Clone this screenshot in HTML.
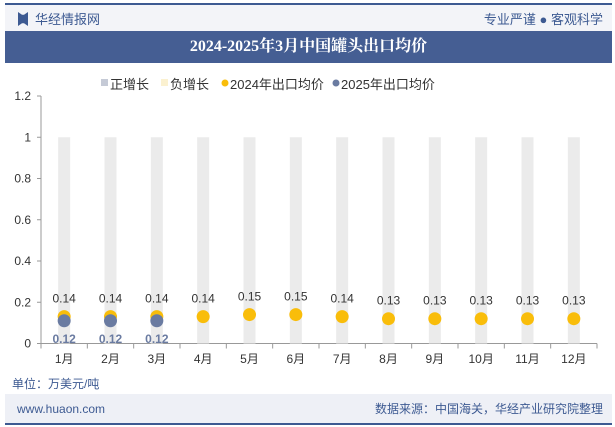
<!DOCTYPE html>
<html><head><meta charset="utf-8"><style>
body{margin:0;width:615px;height:427px;overflow:hidden;background:#fff;font-family:"Liberation Sans","Noto Sans CJK SC",sans-serif;position:relative}
.abs{position:absolute}
</style></head><body>
<div class="abs" style="left:5px;top:3px;width:607px;height:2px;background:#3d5a92"></div>
<div class="abs" style="left:5px;top:5px;width:607px;height:26px;background:#f3f4f8"></div>
<div class="abs" style="left:18px;top:12px;width:10px;height:14px;background:#3d5a92;clip-path:polygon(0 0,40% 20%,60% 20%,100% 0,100% 100%,60% 80%,40% 80%,0 100%)"></div>
<div class="abs" style="left:35px;top:9px;font-size:13px;color:#3d5a92">华经情报网</div>
<div class="abs" style="right:12px;top:9px;font-size:13px;color:#3d5a92">专业严谨 ● 客观科学</div>
<div class="abs" style="left:5px;top:31px;width:607px;height:32px;background:#455e93;color:#fff;font-family:'Liberation Serif','Noto Serif CJK SC',serif;font-weight:bold;font-size:16px;text-align:center;line-height:32px">2024-2025年3月中国罐头出口均价</div>
<svg class="abs" style="left:0;top:0" width="615" height="427">
<g font-size="13" fill="#333">
<rect x="101" y="79" width="7" height="7" fill="#c5cad6"/><text x="110" y="89">正增长</text>
<rect x="161" y="79" width="7" height="7" fill="#fbf1d0"/><text x="170" y="89">负增长</text>
<circle cx="225" cy="83" r="3.5" fill="#f9bd0a"/><text x="230" y="89">2024年出口均价</text>
<circle cx="336" cy="83" r="3.5" fill="#6a7ba1"/><text x="341" y="89">2025年出口均价</text>
</g>
<g id="plot"></g>
<text x="12" y="388" font-size="12" fill="#3d5a92">单位：万美元/吨</text>
<rect x="5" y="394" width="607" height="29" fill="#eef0f6"/>
<rect x="5" y="423" width="607" height="2" fill="#3d5a92"/>
<text x="17" y="413" font-size="12" fill="#3d5a92">www.huaon.com</text>
<text x="603" y="413" font-size="12" fill="#3d5a92" text-anchor="end">数据来源：中国海关，华经产业研究院整理</text>
</svg>
<script>
const categories=["1月","2月","3月","4月","5月","6月","7月","8月","9月","10月","11月","12月"];
const values2024=[0.14,0.14,0.14,0.14,0.15,0.15,0.14,0.13,0.13,0.13,0.13,0.13];
const values2025=[0.12,0.12,0.12];
const growthBar=[1,1,1,1,1,1,1,1,1,1,1,1];
const yTicks=[0,0.2,0.4,0.6,0.8,1,1.2];
const NS="http://www.w3.org/2000/svg";
const g=document.getElementById('plot');
const x0=41,x1=597,y0=343.5,yTop=96;
const band=(x1-x0)/categories.length;
const X=i=>x0+band*(i+0.5);
const Y=v=>y0-(v/1.2)*(y0-yTop);
function mk(t,a){const e=document.createElementNS(NS,t);for(const k in a)e.setAttribute(k,a[k]);g.appendChild(e);return e;}
yTicks.forEach(v=>{
 const t=mk('text',{x:31,y:Y(v)+4,'font-size':12,fill:'#333','text-anchor':'end'});t.textContent=v;
 
 
 mk('line',{x1:x0-4,x2:x0,y1:Y(v),y2:Y(v),stroke:'#999'});
});
mk('line',{x1:x0,x2:x0,y1:yTop,y2:y0,stroke:'#999'});
mk('line',{x1:x0,x2:x1,y1:y0,y2:y0,stroke:'#999'});
categories.forEach((c,i)=>{
 mk('line',{x1:x0+band*i,x2:x0+band*i,y1:y0,y2:y0+5,stroke:'#999'});
 const b=mk('rect',{x:X(i)-6,y:Y(growthBar[i]),width:12,height:y0-Y(growthBar[i]),fill:'#ebebeb'});
 
 
 const t=mk('text',{x:X(i),y:363,'font-size':12,fill:'#333','text-anchor':'middle'});t.textContent=c;
 
 
});
mk('line',{x1:x1,x2:x1,y1:y0,y2:y0+5,stroke:'#999'});
values2024.forEach((v,i)=>{
 const d=mk('circle',{cx:X(i),cy:Y(v)+2,r:6.5,fill:'#f9bd0a'});
 
 
 const t=mk('text',{x:X(i),y:Y(v)-12,'font-size':12,fill:'#333','text-anchor':'middle'});t.textContent=v.toFixed(2);
 
 
});
values2025.forEach((v,i)=>{
 const d=mk('circle',{cx:X(i),cy:Y(v)+2,r:6.5,fill:'#6a7ba1'});
 
 
 const t=mk('text',{x:X(i),y:Y(v)+24,'font-size':12,'font-weight':'bold',fill:'#6a7ba1','text-anchor':'middle'});t.textContent=v.toFixed(2);
 
 
});
</script>
</body></html>
